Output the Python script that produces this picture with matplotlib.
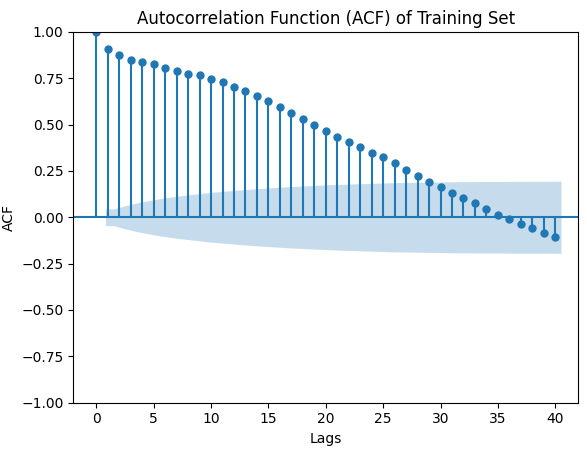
import matplotlib
matplotlib.use("Agg")
import matplotlib.pyplot as plt
import numpy as np

lags = list(range(41))
acf = [1.0, 0.905, 0.875, 0.85, 0.84, 0.825, 0.805, 0.79, 0.775, 0.765, 0.748,
       0.728, 0.705, 0.68, 0.655, 0.628, 0.595, 0.565, 0.53, 0.50, 0.465,
       0.435, 0.405, 0.38, 0.345, 0.325, 0.29, 0.255, 0.22, 0.19, 0.165,
       0.13, 0.105, 0.075, 0.045, 0.01, -0.01, -0.035, -0.06, -0.085, -0.105]
band = [0.045, 0.045, 0.062, 0.077, 0.089, 0.1, 0.109, 0.117, 0.124, 0.131, 0.137,
        0.142, 0.147, 0.152, 0.156, 0.16, 0.164, 0.167, 0.17, 0.173, 0.176,
        0.178, 0.18, 0.182, 0.184, 0.186, 0.187, 0.188, 0.189, 0.19, 0.191,
        0.192, 0.192, 0.193, 0.193, 0.193, 0.194, 0.194, 0.194, 0.194, 0.195]

fig, ax = plt.subplots(figsize=(5.87, 4.55), dpi=100)
x = np.array(lags, dtype=float)
ax.vlines(x, 0, acf, color="C0")
ax.plot(x, acf, "o", color="C0", markersize=5)
ax.axhline(0, color="C0")
b = np.array(band)
ax.fill_between(np.r_[0.8, x[1:]+0.5], -np.r_[b[0], b[1:]], np.r_[b[0], b[1:]],
                color="C0", alpha=0.25, lw=0)
ax.set_xlim(-2, 42)
ax.set_ylim(-1, 1)
ax.set_xticks(range(0, 41, 5))
ax.set_title("Autocorrelation Function (ACF) of Training Set")
ax.set_xlabel("Lags")
ax.set_ylabel("ACF")
fig.subplots_adjust(left=0.125, right=0.985, top=0.93, bottom=0.115)
fig.savefig("out.png")
